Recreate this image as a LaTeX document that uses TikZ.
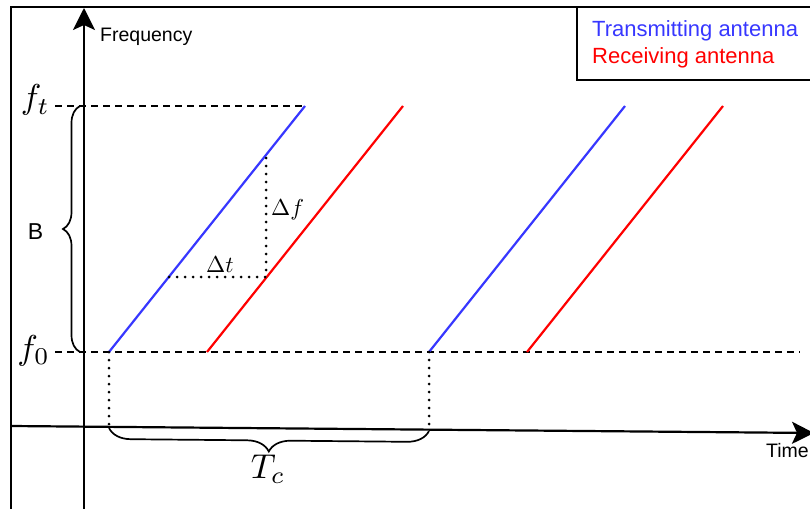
\documentclass[tikz,border=0pt]{standalone}
\usepackage{graphicx}
\usepackage{fontspec}
\newfontfamily\arial{Liberation Sans}
\usetikzlibrary{arrows.meta,decorations.pathreplacing}
\definecolor{txblue}{RGB}{55,55,255}
\definecolor{rxred}{RGB}{255,0,0}
\newcommand{\mylargemath}[1]{\scalebox{3.45}{$#1$}}
\newcommand{\mysmallmath}[1]{\scalebox{2.3}{$#1$}}
\begin{document}
\begin{tikzpicture}[x=1pt,y=-1pt,
  frame/.style={line width=2.2pt},
  axis/.style={line width=2.2pt,-{Stealth[length=22pt,width=22pt,inset=5pt]}},
  chirptx/.style={line width=2.2pt,txblue},
  chirprx/.style={line width=2.2pt,rxred},
  guide/.style={line width=1.9pt,dash pattern=on 7pt off 5pt},
  dotline/.style={line width=3pt,dash pattern=on 0pt off 8pt,line cap=round},
  bracedec/.style={line width=1.7pt,decorate,decoration={brace,amplitude=#1}},
  sanslbl/.style={font=\arial\fontsize{19.5}{23}\selectfont,inner sep=0pt},
  leglbl/.style={font=\arial\fontsize{22}{26}\selectfont,anchor=base west,inner sep=0pt},
  mathlbl/.style={inner sep=0pt}]
\useasboundingbox (0,0) rectangle (810,508);
\clip (0,0) rectangle (810,508);
% frame and legend box
\draw[frame] (11,530) -- (11,7) -- (830,7);
\draw[frame] (577,7) -- (577,80) -- (830,80);
\node[leglbl,text=txblue] (legtx) at (592,37) {Transmitting antenna};
\node[leglbl,text=rxred] (legrx) at (592,64) {Receiving antenna};
% axes
\coordinate (yb) at (84,530);
\coordinate (yt) at (84,8);
\coordinate (xl) at (11,426);
\coordinate (xr) at (814,433);
\draw[axis] (yb) -- (yt);
\draw[axis] (xl) -- (xr);
\node[sanslbl,anchor=base west] (freq) at (100,42) {Frequency};
\node[sanslbl,anchor=base west] (time) at (766,457) {Time};
% frequency levels
\coordinate (ftL) at (55,106);
\coordinate (foL) at (55,352);
\coordinate (foR) at (800,352);
\node[mathlbl,anchor=base east] (ft) at (50,109) {\mylargemath{f_t}};
\node[mathlbl,anchor=base east] (fo) at (50,359) {\mylargemath{f_0}};
% chirps
\coordinate (b1s) at (109,352); \coordinate (b1e) at (305,106);
\coordinate (r1s) at (207,352); \coordinate (r1e) at (403,106);
\coordinate (b2s) at (429,352); \coordinate (b2e) at (625,106);
\coordinate (r2s) at (527,352); \coordinate (r2e) at (723,106);
\draw[guide] (ftL) -- (b1e);
\draw[guide] (foL) -- (foR);
\draw[chirptx] (b1s) -- (b1e);
\draw[chirprx] (r1s) -- (r1e);
\draw[chirptx] (b2s) -- (b2e);
\draw[chirprx] (r2s) -- (r2e);
% delta construction
\coordinate (dtA) at (169,277);
\coordinate (dtB) at (266,277);
\coordinate (dfT) at (266,156);
\draw[dotline] (dtA) -- (dtB) -- (dfT);
\node[mathlbl,anchor=base west] (dt) at (206,272) {\mysmallmath{\Delta t}};
\node[mathlbl,anchor=base west] (df) at (271,215) {\mysmallmath{\Delta f}};
% period markers
\coordinate (p1) at (109,427);
\coordinate (p2) at (429,430);
\draw[dotline] (b1s) -- (p1);
\draw[dotline] (b2s) -- (p2);
\draw[bracedec=22] (429,431) -- (109,428);
\node[mathlbl,anchor=base] (tc) at (268,478) {\mylargemath{T_c}};
% bandwidth brace
\draw[bracedec=17] (80,352) -- (80,106);
\node[font=\arial\fontsize{23}{27}\selectfont,inner sep=0pt,anchor=base] (bw) at (35.5,239) {B};
\end{tikzpicture}
\end{document}
